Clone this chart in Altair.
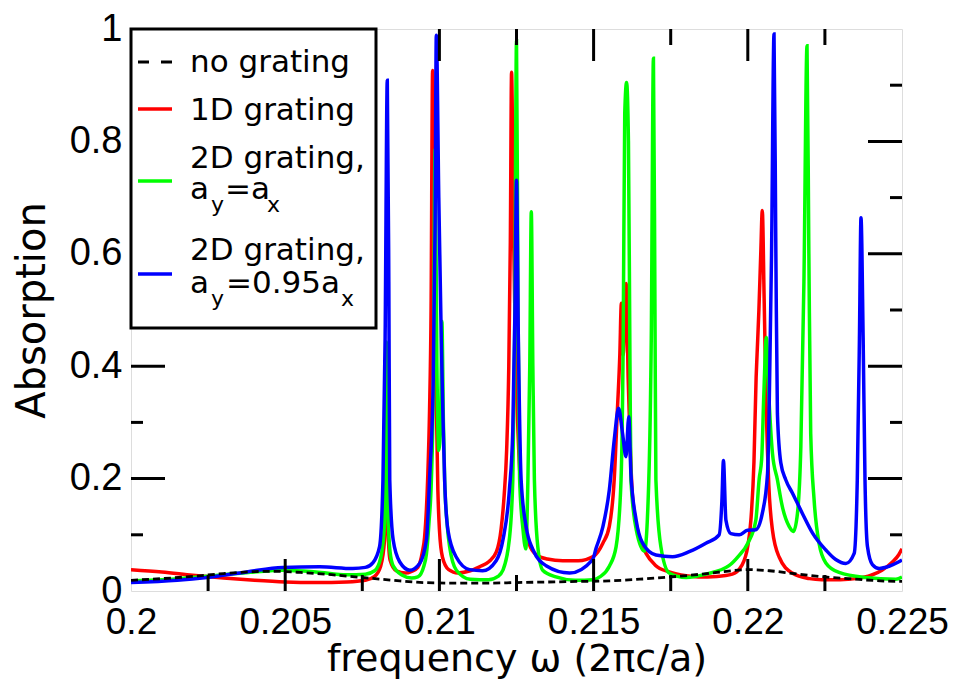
import altair as alt
import pandas as pd

# ---------------- data ----------------
no_x = [0.2000, 0.2010, 0.2020, 0.2030, 0.2038, 0.2046, 0.2055, 0.2065, 0.2075, 0.2085,
        0.2095, 0.2105, 0.2115, 0.2125, 0.2135, 0.2145, 0.2155, 0.2165, 0.2175, 0.2185,
        0.2193, 0.2200, 0.2207, 0.2215, 0.2225, 0.2235, 0.2243, 0.2250]
no_y = [0.019, 0.022, 0.026, 0.031, 0.034, 0.035, 0.033, 0.029, 0.024, 0.019,
        0.015, 0.014, 0.014, 0.015, 0.016, 0.017, 0.018, 0.021, 0.025, 0.030,
        0.035, 0.038, 0.036, 0.031, 0.025, 0.021, 0.018, 0.017]

red_x = [0.2000, 0.2010, 0.2020, 0.2030, 0.2040, 0.2050, 0.2060, 0.2070, 0.2076, 0.2079,
         0.2081, 0.20822, 0.20828, 0.20834, 0.2084, 0.2086, 0.2089, 0.2091, 0.2093, 0.20945,
         0.20952, 0.20962, 0.20968, 0.20973, 0.20978, 0.20983, 0.20988, 0.20995, 0.2100, 0.2101,
         0.2103, 0.2106, 0.2110, 0.2113, 0.2116, 0.21185, 0.2120, 0.2121, 0.21218, 0.21225,
         0.2123, 0.21234, 0.2124, 0.21247, 0.21255, 0.2127, 0.2129, 0.21315, 0.2135, 0.2140,
         0.2145, 0.2150, 0.2153, 0.21551, 0.21567, 0.21577, 0.21585, 0.2159, 0.21596, 0.2160,
         0.21606, 0.21612, 0.21618, 0.21626, 0.21648, 0.2167, 0.2170, 0.21745, 0.2180, 0.2184,
         0.2190, 0.2195, 0.2198, 0.2200, 0.2201, 0.2202, 0.22027, 0.2203, 0.22036, 0.22042,
         0.22047, 0.22053, 0.2206, 0.22068, 0.2208, 0.22102, 0.22144, 0.2220, 0.2224, 0.2230,
         0.2235, 0.2240, 0.22435, 0.2247, 0.2249, 0.2250]
red_y = [0.038, 0.034, 0.028, 0.023, 0.019, 0.016, 0.015, 0.016, 0.019, 0.026,
         0.045, 0.090, 0.230, 0.100, 0.055, 0.036, 0.032, 0.035, 0.042, 0.070,
         0.096, 0.200, 0.320, 0.500, 0.926, 0.700, 0.400, 0.180, 0.110, 0.060,
         0.038, 0.032, 0.036, 0.043, 0.052, 0.070, 0.110, 0.170, 0.250, 0.400,
         0.620, 0.923, 0.650, 0.420, 0.280, 0.140, 0.085, 0.064, 0.057, 0.054,
         0.054, 0.062, 0.085, 0.115, 0.200, 0.320, 0.420, 0.512, 0.420, 0.460,
         0.547, 0.380, 0.270, 0.170, 0.096, 0.067, 0.046, 0.034, 0.027, 0.025,
         0.026, 0.030, 0.045, 0.080, 0.126, 0.230, 0.380, 0.420, 0.500, 0.600,
         0.677, 0.520, 0.320, 0.190, 0.108, 0.060, 0.032, 0.022, 0.020, 0.020,
         0.022, 0.028, 0.037, 0.052, 0.065, 0.075]

green_x = [0.2000, 0.2010, 0.2020, 0.2030, 0.2040, 0.2049, 0.2060, 0.2070, 0.2076, 0.2079,
           0.2081, 0.20822, 0.20828, 0.20834, 0.2084, 0.2085, 0.2088, 0.2091, 0.2093, 0.2095,
           0.20958, 0.20966, 0.20974, 0.2098, 0.20986, 0.20992, 0.20998, 0.21004, 0.21008, 0.21013,
           0.21017, 0.21025, 0.21033, 0.21055, 0.2110, 0.2116, 0.2119, 0.21206, 0.21227, 0.21238,
           0.21244, 0.2125, 0.21255, 0.2126, 0.21271, 0.2128, 0.21287, 0.21293, 0.21298, 0.21303,
           0.21308, 0.21319, 0.21335, 0.21378, 0.2144, 0.2150, 0.2152, 0.21551, 0.21573, 0.21589,
           0.21596, 0.21601, 0.21607, 0.21613, 0.21618, 0.21621, 0.21638, 0.21665, 0.21679, 0.21687,
           0.21694, 0.21699, 0.21702, 0.21718, 0.21745, 0.2180, 0.21864, 0.21939, 0.2197, 0.2200,
           0.22026, 0.22037, 0.22045, 0.22052, 0.2206, 0.22068, 0.2208, 0.22096, 0.22112, 0.22134,
           0.22148, 0.22161, 0.22172, 0.22182, 0.22192, 0.22198, 0.22204, 0.22215, 0.22231, 0.22253,
           0.22296, 0.2238, 0.2248, 0.2250]
green_y = [0.018, 0.020, 0.024, 0.029, 0.034, 0.037, 0.034, 0.029, 0.030, 0.036,
           0.060, 0.120, 0.443, 0.130, 0.070, 0.045, 0.028, 0.023, 0.025, 0.045,
           0.066, 0.120, 0.198, 0.350, 0.786, 0.400, 0.250, 0.300, 0.480, 0.300,
           0.198, 0.120, 0.079, 0.037, 0.021, 0.020, 0.026, 0.037, 0.093, 0.198,
           0.450, 0.979, 0.500, 0.200, 0.110, 0.075, 0.198, 0.400, 0.675, 0.400,
           0.198, 0.079, 0.037, 0.025, 0.019, 0.020, 0.025, 0.044, 0.079, 0.198,
           0.450, 0.850, 0.905, 0.800, 0.400, 0.198, 0.110, 0.071, 0.198, 0.450,
           0.948, 0.500, 0.198, 0.079, 0.032, 0.024, 0.030, 0.045, 0.062, 0.085,
           0.126, 0.200, 0.235, 0.350, 0.451, 0.350, 0.245, 0.198, 0.150, 0.115,
           0.106, 0.138, 0.257, 0.550, 0.970, 0.600, 0.280, 0.162, 0.085, 0.050,
           0.033, 0.024, 0.021, 0.025]

blue_x = [0.2000, 0.2015, 0.20246, 0.20375, 0.20492, 0.20612, 0.20719, 0.2076, 0.20784, 0.20806,
          0.20817, 0.20824, 0.20831, 0.20836, 0.20839, 0.2085, 0.20871, 0.20904, 0.20936, 0.20958,
          0.20968, 0.2098, 0.20986, 0.2099, 0.20998, 0.21006, 0.21012, 0.21017, 0.21028, 0.21055,
          0.21098, 0.2114, 0.21184, 0.21206, 0.21227, 0.21238, 0.21245, 0.2125, 0.21256, 0.21265,
          0.21281, 0.21303, 0.21346, 0.21422, 0.21497, 0.21508, 0.2153, 0.21551, 0.21567, 0.21581,
          0.21594, 0.21605, 0.21614, 0.21621, 0.21638, 0.21659, 0.21702, 0.21756, 0.2181, 0.21864,
          0.21907, 0.21916, 0.21921, 0.21929, 0.21945, 0.21972, 0.21999, 0.22026, 0.22047, 0.22064,
          0.22069, 0.22077, 0.22085, 0.22091, 0.22096, 0.22107, 0.22123, 0.22145, 0.22177, 0.2221,
          0.22253, 0.22285, 0.22318, 0.22345, 0.22355, 0.22362, 0.22367, 0.22374, 0.2238, 0.22388,
          0.22404, 0.22426, 0.22458, 0.2249, 0.2250]
blue_y = [0.015, 0.019, 0.024, 0.034, 0.042, 0.043, 0.040, 0.042, 0.050, 0.079,
          0.198, 0.450, 0.909, 0.550, 0.198, 0.091, 0.052, 0.037, 0.049, 0.091,
          0.198, 0.375, 0.650, 0.989, 0.700, 0.450, 0.300, 0.198, 0.107, 0.060,
          0.038, 0.036, 0.054, 0.091, 0.180, 0.287, 0.500, 0.731, 0.450, 0.198,
          0.115, 0.074, 0.045, 0.032, 0.056, 0.076, 0.114, 0.180, 0.269, 0.325,
          0.280, 0.239, 0.310, 0.209, 0.126, 0.085, 0.064, 0.061, 0.070, 0.085,
          0.100, 0.160, 0.232, 0.126, 0.102, 0.100, 0.108, 0.109, 0.138, 0.209,
          0.316, 0.600, 0.991, 0.600, 0.316, 0.228, 0.198, 0.174, 0.138, 0.103,
          0.073, 0.056, 0.049, 0.067, 0.198, 0.450, 0.664, 0.450, 0.198, 0.079,
          0.047, 0.040, 0.044, 0.052, 0.055]

x_label_values = [0.2, 0.205, 0.21, 0.215, 0.22, 0.225]
y_label_values = [0, 0.2, 0.4, 0.6, 0.8, 1]
x_major_ticks = [0.205, 0.21, 0.215, 0.22]
x_minor_ticks = [0.2025, 0.2075, 0.2125, 0.2175, 0.2225]
y_major_ticks = [0.2, 0.4, 0.6, 0.8]
y_minor_ticks = [0.1, 0.3, 0.5, 0.7, 0.9]

legend_labels = ["no grating", "1D grating", "2D grating,", "2D grating,"]

# ---------------- chart ----------------
W, H = 771, 562
xs = alt.Scale(domain=[0.2, 0.225], nice=False, zero=False)
ys = alt.Scale(domain=[0, 1], nice=False, zero=False)

x_axis = alt.Axis(values=x_label_values, format="~g", labelFont="Liberation Sans",
                  labelFontSize=37, labelColor="black", labelPadding=13, labelFlush=False,
                  labelOverlap=False, ticks=False, tickSize=0, domain=False, grid=False,
                  titleFont="DejaVu Sans", titleFontSize=38,
                  titleFontWeight="normal", titleColor="black", titleBaseline="middle", titleY=68)
y_axis = alt.Axis(values=y_label_values, format="~g", labelFont="Liberation Sans",
                  labelFontSize=38, labelColor="black", labelPadding=9, labelFlush=False,
                  labelOverlap=False, ticks=False, tickSize=0, domain=False, grid=False,
                  titleFont="DejaVu Sans", titleFontSize=40,
                  titleFontWeight="normal", titleColor="black", titleBaseline="middle", titleX=-99)

X_TITLE = "frequency ω (2πc/a)"
Y_TITLE = "Absorption"


def xenc(field):
    return alt.X(field, type="quantitative", scale=xs, axis=x_axis, title=X_TITLE)


def yenc(field):
    return alt.Y(field, type="quantitative", scale=ys, axis=y_axis, title=Y_TITLE)


def series(xv, yv, color, width, dash=None):
    df = pd.DataFrame({"x": xv, "y": yv})
    kw = dict(color=color, strokeWidth=width, clip=True, interpolate="monotone")
    if dash:
        kw["strokeDash"] = dash
    return alt.Chart(df).mark_line(**kw).encode(x=xenc("x"), y=yenc("y"))


red = series(red_x, red_y, "#ff0000", 3.5)
green = series(green_x, green_y, "#00ff00", 3.5)
blue = series(blue_x, blue_y, "#0000ff", 3.5)
black = series(no_x, no_y, "#000000", 2.8, [7, 4])


def xticks(vals, length, top):
    df = pd.DataFrame({"v": vals})
    if top:
        enc = dict(y=alt.value(0), y2=alt.value(length))
    else:
        enc = dict(y=alt.value(H), y2=alt.value(H - length))
    return alt.Chart(df).mark_rule(color="black", strokeWidth=3).encode(x=xenc("v"), **enc)


def yticks(vals, length, right):
    df = pd.DataFrame({"v": vals})
    if right:
        enc = dict(x=alt.value(W), x2=alt.value(W - length))
    else:
        enc = dict(x=alt.value(0), x2=alt.value(length))
    return alt.Chart(df).mark_rule(color="black", strokeWidth=3).encode(y=yenc("v"), **enc)


tick_layers = [
    xticks(x_major_ticks, 32, False), xticks(x_major_ticks, 32, True),
    xticks(x_minor_ticks, 16, False), xticks(x_minor_ticks, 16, True),
    yticks(y_major_ticks, 34, False), yticks(y_major_ticks, 34, True),
    yticks(y_minor_ticks, 12, False), yticks(y_minor_ticks, 12, True),
]

one = pd.DataFrame({"k": [0]})
legend_box = alt.Chart(one).mark_rect(fill="white", stroke="black", strokeWidth=3).encode(
    x=alt.value(0), x2=alt.value(245), y=alt.value(0), y2=alt.value(299))


def sample(color, yv, width, dash=None):
    kw = dict(color=color, strokeWidth=width)
    if dash:
        kw["strokeDash"] = dash
    return alt.Chart(one).mark_rule(**kw).encode(
        x=alt.value(7), x2=alt.value(41), y=alt.value(yv))


def label(txt, xv, yv, size=31):
    return alt.Chart(one).mark_text(text=txt, font="DejaVu Sans", fontSize=size, color="black",
                                    align="left", baseline="alphabetic").encode(
        x=alt.value(xv), y=alt.value(yv))


legend_layers = [
    legend_box,
    sample("#000000", 33, 3, [11, 12]),
    sample("#ff0000", 80, 3.5),
    sample("#00ff00", 152, 3.5),
    sample("#0000ff", 245, 3.5),
    label(legend_labels[0], 59, 43),
    label(legend_labels[1], 59, 91),
    label(legend_labels[2], 59, 139),
    label("a", 59, 170), label("y", 80, 183, 22), label("=a", 94, 170), label("x", 136, 183, 22),
    label(legend_labels[3], 59, 231),
    label("a", 59, 264), label("y", 80, 277, 22), label("=0.95a", 95, 264), label("x", 210, 277, 22),
]

chart = alt.layer(red, green, blue, black, *tick_layers, *legend_layers).properties(
    width=W, height=H,
    autosize=alt.AutoSizeParams(type="none"),
    padding={"left": 123, "top": 21, "right": 50, "bottom": 88},
).configure_view(stroke="black", strokeWidth=3).configure(background="white")

chart.save("out.html", embed_options={"renderer": "svg", "actions": False})
